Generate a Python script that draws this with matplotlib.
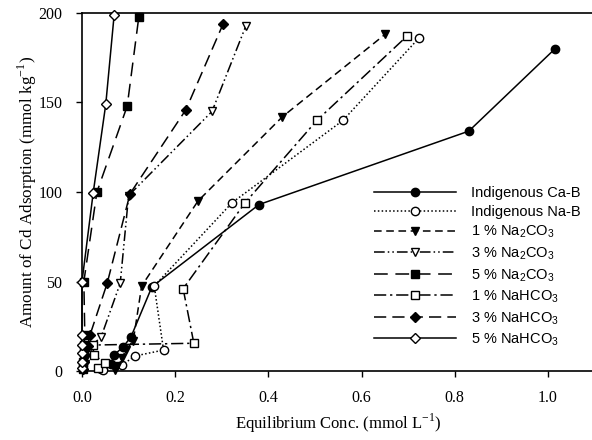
import matplotlib
matplotlib.use("Agg")
import matplotlib.pyplot as plt

# Data (x: equilibrium conc mmol/L, y: Cd adsorbed mmol/kg)
ca_b_x = [0.04, 0.062, 0.069, 0.088, 0.105, 0.15, 0.38, 0.83, 1.015]
ca_b_y = [1, 4, 9, 13.4, 19, 47, 93, 134, 180]

na_b_x = [0.045, 0.086, 0.114, 0.175, 0.155, 0.322, 0.56, 0.723]
na_b_y = [0.5, 3.4, 8.4, 11.7, 47.5, 94, 140, 186]

na2co3_1_x = [0.07, 0.075, 0.085, 0.095, 0.11, 0.128, 0.249, 0.43, 0.65]
na2co3_1_y = [0.5, 3, 7, 12, 17, 47.5, 95, 142, 188]

na2co3_3_x = [0.003, 0.006, 0.01, 0.02, 0.041, 0.082, 0.1, 0.279, 0.352]
na2co3_3_y = [1, 4, 9, 14, 19, 49, 98, 145, 193]

na2co3_5_x = [0.002, 0.003, 0.004, 0.005, 0.006, 0.004, 0.032, 0.097, 0.122]
na2co3_5_y = [1, 5, 10, 14.5, 20, 50, 100, 148, 198]

nahco3_1_x = [0.035, 0.05, 0.025, 0.024, 0.24, 0.217, 0.35, 0.504, 0.697]
nahco3_1_y = [1.5, 4.5, 9, 14.5, 15.5, 46, 94, 140, 187]

nahco3_3_x = [0.002, 0.004, 0.007, 0.012, 0.017, 0.054, 0.103, 0.223, 0.303]
nahco3_3_y = [1, 5, 9, 14, 20, 49, 99, 146, 194]

nahco3_5_x = [0.0, 0.0, 0.0, 0.0, 0.0, 0.0, 0.024, 0.051, 0.069]
nahco3_5_y = [1.7, 5, 10, 14.5, 20, 50, 99.5, 149, 199]

labels = ["Indigenous Ca-B", "Indigenous Na-B",
          r"1 % Na$_\mathregular{2}$CO$_\mathregular{3}$",
          r"3 % Na$_\mathregular{2}$CO$_\mathregular{3}$",
          r"5 % Na$_\mathregular{2}$CO$_\mathregular{3}$",
          r"1 % NaHCO$_\mathregular{3}$",
          r"3 % NaHCO$_\mathregular{3}$",
          r"5 % NaHCO$_\mathregular{3}$"]
x_ticks = [0.0, 0.2, 0.4, 0.6, 0.8, 1.0]
y_ticks = [0, 50, 100, 150, 200]

plt.rcParams['mathtext.fontset'] = 'custom'
plt.rcParams['mathtext.rm'] = 'Liberation Sans'

fig = plt.figure(figsize=(5.92, 4.4), dpi=100)
ax = fig.add_axes([82/592, 69/440, 1.1*466/592, 358/440])

series = [
    (ca_b_x, ca_b_y, dict(ls='-', marker='o', mfc='black')),
    (na_b_x, na_b_y, dict(ls=(0, (1, 1.5)), marker='o', mfc='white')),
    (na2co3_1_x, na2co3_1_y, dict(ls=(0, (5, 3)), marker='v', mfc='black')),
    (na2co3_3_x, na2co3_3_y, dict(ls=(0, (7, 2, 1, 2, 1, 2)), marker='v', mfc='white')),
    (na2co3_5_x, na2co3_5_y, dict(ls=(0, (9, 5)), marker='s', mfc='black')),
    (nahco3_1_x, nahco3_1_y, dict(ls=(0, (8, 2.5, 1.5, 2.5)), marker='s', mfc='white')),
    (nahco3_3_x, nahco3_3_y, dict(ls=(0, (8, 4)), marker='D', mfc='black')),
    (nahco3_5_x, nahco3_5_y, dict(ls='-', marker='D', mfc='white')),
]
for (x, y, st), lab in zip(series, labels):
    ms = 6 if st['marker'] != 'D' else 5.5
    ax.plot(x, y, color='black', lw=1.1, mec='black', ms=ms, mew=1.0,
            label=lab, clip_on=False, zorder=3, **st)

ax.set_xlim(0, 1.1)
ax.set_ylim(0, 200)
ax.set_xticks(x_ticks)
ax.set_xticklabels([f"{v:.1f}" for v in x_ticks])
ax.set_yticks(y_ticks)
ax.tick_params(direction='out', length=4, width=1, labelsize=11.5)
ax.tick_params(axis='x', pad=9.5)
ax.tick_params(axis='y', pad=10)
for lab in ax.get_xticklabels() + ax.get_yticklabels():
    lab.set_fontfamily('Liberation Serif')
for sp in ax.spines.values():
    sp.set_linewidth(1.2)
ax.spines['right'].set_visible(False)

ax.set_xlabel(r"Equilibrium Conc. (mmol L$^{\mathregular{-1}}$)", fontsize=12,
              fontfamily='Liberation Serif', labelpad=4.5)
ax.set_ylabel(r"Amount of Cd Adsorption (mmol kg$^{\mathregular{-1}}$)", fontsize=12.3,
              fontfamily='Liberation Serif', labelpad=-0.5)

leg = ax.legend(loc='upper left', bbox_to_anchor=(0.545, 0.553), frameon=False,
                numpoints=1, handlelength=5.6, handletextpad=1.0,
                labelspacing=0.33, prop={'family': 'Liberation Sans', 'size': 10.5})

fig.savefig("out.png", dpi=100)
